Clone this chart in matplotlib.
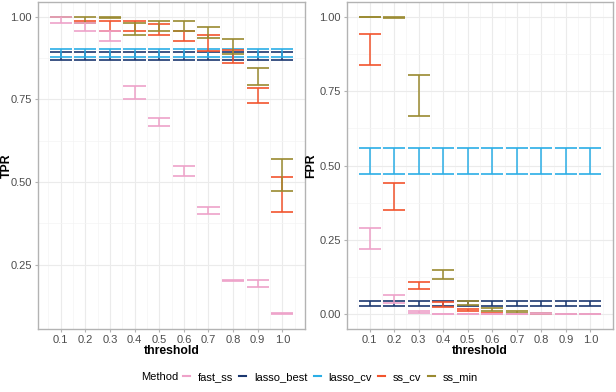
import numpy as np
import matplotlib
matplotlib.use('Agg')
import matplotlib.pyplot as plt
from matplotlib.lines import Line2D

plt.rcParams['font.family'] = ['Liberation Sans', 'DejaVu Sans']

threshold = [0.1, 0.2, 0.3, 0.4, 0.5, 0.6, 0.7, 0.8, 0.9, 1.0]
methods = ['fast_ss', 'lasso_best', 'lasso_cv', 'ss_cv', 'ss_min']
colors = {'fast_ss': '#EEA2C9', 'lasso_best': '#1B3770', 'lasso_cv': '#2BAEE6',
          'ss_cv': '#F2542D', 'ss_min': '#9A8A30'}

# TPR: lower / upper ends of error bars
tpr_lo = {
    'fast_ss':    [0.981, 0.957, 0.926, 0.750, 0.669, 0.517, 0.403, 0.200, 0.183, 0.100],
    'lasso_best': [0.868] * 10,
    'lasso_cv':   [0.880] * 10,
    'ss_cv':      [1.000, 0.981, 0.956, 0.958, 0.945, 0.926, 0.898, 0.861, 0.739, 0.409],
    'ss_min':     [1.000, 0.981, 0.997, 0.944, 0.956, 0.956, 0.936, 0.888, 0.795, 0.474],
}
tpr_hi = {
    'fast_ss':    [1.000, 0.981, 0.956, 0.792, 0.695, 0.547, 0.424, 0.203, 0.204, 0.103],
    'lasso_best': [0.895] * 10,
    'lasso_cv':   [0.902] * 10,
    'ss_cv':      [1.000, 0.986, 0.986, 0.988, 0.977, 0.956, 0.946, 0.901, 0.784, 0.516],
    'ss_min':     [1.000, 1.000, 1.000, 0.981, 0.986, 0.988, 0.968, 0.934, 0.845, 0.571],
}

# FPR: lower / upper ends of error bars
fpr_lo = {
    'fast_ss':    [0.220, 0.037, 0.003, 0.000, 0.000, 0.000, 0.000, 0.000, 0.000, 0.000],
    'lasso_best': [0.029] * 10,
    'lasso_cv':   [0.470] * 10,
    'ss_cv':      [0.837, 0.350, 0.086, 0.025, 0.009, 0.002, 0.000, 0.000, 0.000, 0.000],
    'ss_min':     [0.999, 0.996, 0.668, 0.119, 0.031, 0.012, 0.003, 0.000, 0.000, 0.000],
}
fpr_hi = {
    'fast_ss':    [0.289, 0.063, 0.012, 0.002, 0.002, 0.002, 0.002, 0.004, 0.001, 0.001],
    'lasso_best': [0.045] * 10,
    'lasso_cv':   [0.560] * 10,
    'ss_cv':      [0.941, 0.441, 0.109, 0.041, 0.017, 0.004, 0.002, 0.000, 0.000, 0.000],
    'ss_min':     [1.000, 1.000, 0.806, 0.150, 0.044, 0.022, 0.011, 0.003, 0.000, 0.000],
}

bar_w = 0.045
draw_order = ['lasso_best', 'lasso_cv', 'ss_cv', 'ss_min', 'fast_ss']


def draw_panel(ax, lo, hi, ylabel, yticks, ylim, label_x):
    x = np.array(threshold)
    for i, m in enumerate(draw_order):
        c = colors[m]
        z = 3 + i
        ax.vlines(x, lo[m], hi[m], color=c, lw=1.1, zorder=z)
        ax.hlines(lo[m], x - bar_w, x + bar_w, color=c, lw=1.2, zorder=z)
        ax.hlines(hi[m], x - bar_w, x + bar_w, color=c, lw=1.2, zorder=z)
    ax.set_xlim(0.008, 1.092)
    ax.set_ylim(*ylim)
    ax.set_xticks(threshold)
    ax.set_xticklabels(['%.1f' % t for t in threshold])
    ax.set_xticks(np.arange(0.05, 1.06, 0.1), minor=True)
    ax.set_yticks(yticks)
    ax.set_yticklabels(['%.2f' % t for t in yticks])
    ax.set_yticks(np.array(yticks[:-1]) + 0.125, minor=True)
    ax.grid(True, which='major', color='#EBEBEB', lw=0.8, zorder=0)
    ax.grid(True, which='minor', color='#F4F4F4', lw=0.5, zorder=0)
    ax.set_axisbelow(True)
    for s in ax.spines.values():
        s.set_color('#B3B3B3')
        s.set_linewidth(1.0)
    ax.tick_params(which='major', length=2.5, color='#B3B3B3', labelsize=8,
                   labelcolor='#4D4D4D', pad=2)
    ax.tick_params(which='minor', length=0)
    ax.set_xlabel('threshold', fontsize=8.8, fontweight='bold', labelpad=0)
    ax.set_ylabel(ylabel, fontsize=8.8, fontweight='bold')
    ax.yaxis.set_label_coords(label_x, 0.5)


fig = plt.figure(figsize=(6.16, 3.92), dpi=100)
ax1 = fig.add_axes([38 / 616, 1 - 329 / 392, 267 / 616, 327 / 392])
ax2 = fig.add_axes([347 / 616, 1 - 329 / 392, 266 / 616, 327 / 392])

draw_panel(ax1, tpr_lo, tpr_hi, 'TPR', [0.25, 0.50, 0.75, 1.00], (0.055, 1.045), -25 / 267)
draw_panel(ax2, fpr_lo, fpr_hi, 'FPR', [0.00, 0.25, 0.50, 0.75, 1.00], (-0.05, 1.05), -30 / 266)

handles = [Line2D([0], [0], color=colors[m], lw=1.5) for m in methods]
fig.legend(handles, methods, loc='center left', bbox_to_anchor=(183 / 616, 1 - 377 / 392),
           ncol=5, frameon=False, fontsize=8, handlelength=0.6,
           handletextpad=0.7, columnspacing=0.6, borderpad=0, borderaxespad=0)
fig.text(178 / 616, 1 - 377 / 392, 'Method', ha='right', va='center', fontsize=8)

fig.savefig('out.png', dpi=100)
